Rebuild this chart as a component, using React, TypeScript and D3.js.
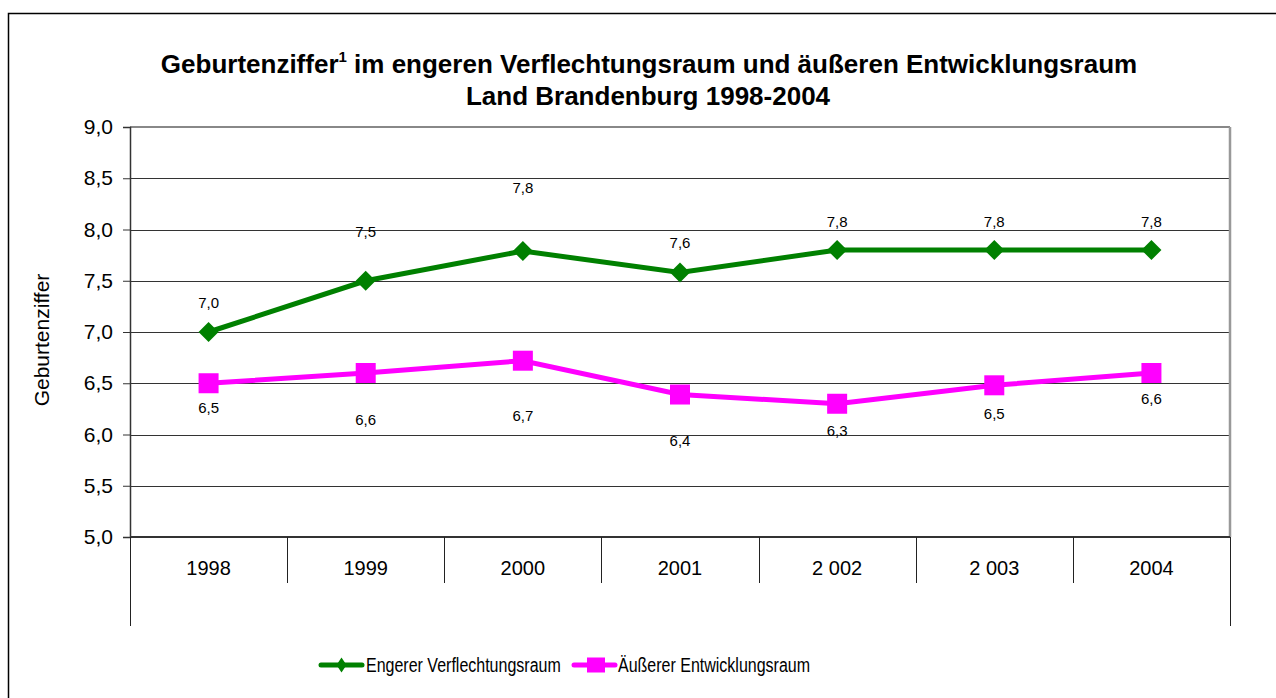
import React, { useEffect, useRef } from 'react';
import * as d3 from 'd3';

const years = ['1998', '1999', '2000', '2001', '2 002', '2 003', '2004'];
const engerer = [7.0, 7.5, 7.79, 7.58, 7.8, 7.8, 7.8];
const engererLabels = ['7,0', '7,5', '7,8', '7,6', '7,8', '7,8', '7,8'];
const aeusserer = [6.5, 6.6, 6.72, 6.39, 6.3, 6.48, 6.6];
const aeussererLabels = ['6,5', '6,6', '6,7', '6,4', '6,3', '6,5', '6,6'];
const yTicks = [5.0, 5.5, 6.0, 6.5, 7.0, 7.5, 8.0, 8.5, 9.0];

// label offsets as placed in the original (px from point to label middle)
const greenLabelDy = [-30, -49, -64, -30, -29, -29, -29];
const pinkLabelDy = [24, 46, 55, 46, 27, 28, 25];

const W = 1276;
const H = 698;
const margin = { top: 127, right: 46, bottom: 161, left: 130 };
const font = 'Arial, "Liberation Sans", sans-serif';

export default function App() {
  const svgRef = useRef<SVGSVGElement>(null);

  useEffect(() => {
    if (!svgRef.current) return;
    const svg = d3.select(svgRef.current);
    svg.selectAll('*').remove();

    const x0 = margin.left;
    const x1 = W - margin.right;
    const y0 = H - margin.bottom;
    const y1 = margin.top;

    const x = d3.scaleBand().domain(years).range([x0, x1]).padding(0);
    const y = d3.scaleLinear().domain([5, 9]).range([y0, y1]);
    const cx = (d: string) => (x(d) as number) + x.bandwidth() / 2;

    // outer frame
    svg.append('rect')
      .attr('x', 8.5).attr('y', 13.5)
      .attr('width', W).attr('height', H)
      .attr('fill', 'none').attr('stroke', '#000').attr('stroke-width', 1.5);

    // title
    const title = svg.append('text')
      .attr('x', 649).attr('y', 73)
      .attr('text-anchor', 'middle')
      .attr('font-family', font).attr('font-weight', 'bold').attr('font-size', 26);
    title.append('tspan').text('Geburtenziffer');
    title.append('tspan').attr('font-size', 15).attr('dy', -11).text('1');
    title.append('tspan').attr('dy', 11).text(' im engeren Verflechtungsraum und äußeren Entwicklungsraum');
    svg.append('text')
      .attr('x', 648).attr('y', 105)
      .attr('text-anchor', 'middle')
      .attr('font-family', font).attr('font-weight', 'bold').attr('font-size', 26)
      .text('Land Brandenburg 1998-2004');

    // gridlines
    svg.append('g')
      .selectAll('line')
      .data(yTicks.filter(t => t > 5 && t < 9))
      .join('line')
      .attr('x1', x0).attr('x2', x1)
      .attr('y1', d => Math.round(y(d)) + 0.5).attr('y2', d => Math.round(y(d)) + 0.5)
      .attr('stroke', '#333').attr('stroke-width', 1);

    // top and right border of plot
    svg.append('line')
      .attr('x1', x0).attr('x2', x1).attr('y1', y1).attr('y2', y1)
      .attr('stroke', '#888').attr('stroke-width', 2);
    svg.append('line')
      .attr('x1', x1).attr('x2', x1).attr('y1', y1).attr('y2', y0)
      .attr('stroke', '#999').attr('stroke-width', 2.5);

    // y axis
    const yAxis = svg.append('g')
      .attr('transform', `translate(${x0},0)`)
      .call(d3.axisLeft(y).tickValues(yTicks).tickSize(7).tickPadding(10)
        .tickFormat(d => d3.format('.1f')(d as number).replace('.', ',')));
    yAxis.select('.domain').attr('stroke', '#333').attr('stroke-width', 1.5);
    yAxis.selectAll('.tick line').attr('stroke', '#333');
    yAxis.selectAll('text')
      .attr('font-family', font).attr('font-size', 21).attr('fill', '#000');

    svg.append('text')
      .attr('transform', 'translate(49,340) rotate(-90)')
      .attr('text-anchor', 'middle')
      .attr('font-family', font).attr('font-size', 21)
      .text('Geburtenziffer');

    // x axis with category table lines
    svg.append('line')
      .attr('x1', x0).attr('x2', x1).attr('y1', y0).attr('y2', y0)
      .attr('stroke', '#333').attr('stroke-width', 2);
    const seps = years.map(d => x(d) as number).concat([x1]);
    svg.append('g')
      .selectAll('line')
      .data(seps)
      .join('line')
      .attr('x1', d => Math.round(d) + 0.5).attr('x2', d => Math.round(d) + 0.5)
      .attr('y1', y0)
      .attr('y2', (d, i) => (i === 0 || i === seps.length - 1 ? 626 : 583))
      .attr('stroke', '#222').attr('stroke-width', 1);
    svg.append('g')
      .selectAll('text')
      .data(years)
      .join('text')
      .attr('x', d => cx(d)).attr('y', 575)
      .attr('text-anchor', 'middle')
      .attr('font-family', font).attr('font-size', 20)
      .text(d => d);

    const line = d3.line<number>()
      .x((_, i) => cx(years[i]))
      .y(d => y(d));

    // magenta series
    svg.append('path')
      .datum(aeusserer)
      .attr('d', line)
      .attr('fill', 'none').attr('stroke', '#ff00ff').attr('stroke-width', 5);
    svg.append('g')
      .selectAll('rect')
      .data(aeusserer)
      .join('rect')
      .attr('x', (_, i) => cx(years[i]) - 10)
      .attr('y', d => y(d) - 10)
      .attr('width', 20).attr('height', 20)
      .attr('fill', '#ff00ff');

    // green series
    svg.append('path')
      .datum(engerer)
      .attr('d', line)
      .attr('fill', 'none').attr('stroke', '#008000').attr('stroke-width', 5);
    const diamond = d3.symbol().type(d3.symbolSquare).size(200);
    svg.append('g')
      .selectAll('path')
      .data(engerer)
      .join('path')
      .attr('d', diamond)
      .attr('transform', (d, i) => `translate(${cx(years[i])},${y(d)}) rotate(45)`)
      .attr('fill', '#008000');

    // data labels
    svg.append('g')
      .selectAll('text')
      .data(engerer)
      .join('text')
      .attr('x', (_, i) => cx(years[i]))
      .attr('y', (d, i) => y(d) + greenLabelDy[i] + 5.5)
      .attr('text-anchor', 'middle')
      .attr('font-family', font).attr('font-size', 15)
      .text((_, i) => engererLabels[i]);
    svg.append('g')
      .selectAll('text')
      .data(aeusserer)
      .join('text')
      .attr('x', (_, i) => cx(years[i]))
      .attr('y', (d, i) => y(d) + pinkLabelDy[i] + 5.5)
      .attr('text-anchor', 'middle')
      .attr('font-family', font).attr('font-size', 15)
      .text((_, i) => aeussererLabels[i]);

    // legend (text drawn narrow, as in the original)
    const legend = svg.append('g').attr('font-family', font).attr('font-size', 20);
    const lg = legend.append('g').attr('transform', 'translate(321,665)');
    lg.append('line').attr('x1', 0).attr('x2', 41).attr('stroke', '#008000').attr('stroke-width', 5).attr('stroke-linecap', 'round');
    lg.append('path').attr('d', 'M0,-7.5L5,0L0,7.5L-5,0Z').attr('transform', 'translate(20.5,0)').attr('fill', '#008000');
    lg.append('text').attr('transform', 'translate(45,7) scale(0.8,1)').text('Engerer Verflechtungsraum');
    const lp = legend.append('g').attr('transform', 'translate(574,665)');
    lp.append('line').attr('x1', 0).attr('x2', 41).attr('stroke', '#ff00ff').attr('stroke-width', 5).attr('stroke-linecap', 'round');
    lp.append('rect').attr('x', 13).attr('y', -7.5).attr('width', 18).attr('height', 15).attr('fill', '#ff00ff');
    lp.append('text').attr('transform', 'translate(44,7) scale(0.8,1)').text('Äußerer Entwicklungsraum');
  }, []);

  return <svg ref={svgRef} width={W} height={H} style={{ position: 'absolute', left: 0, top: 0 }} />;
}
